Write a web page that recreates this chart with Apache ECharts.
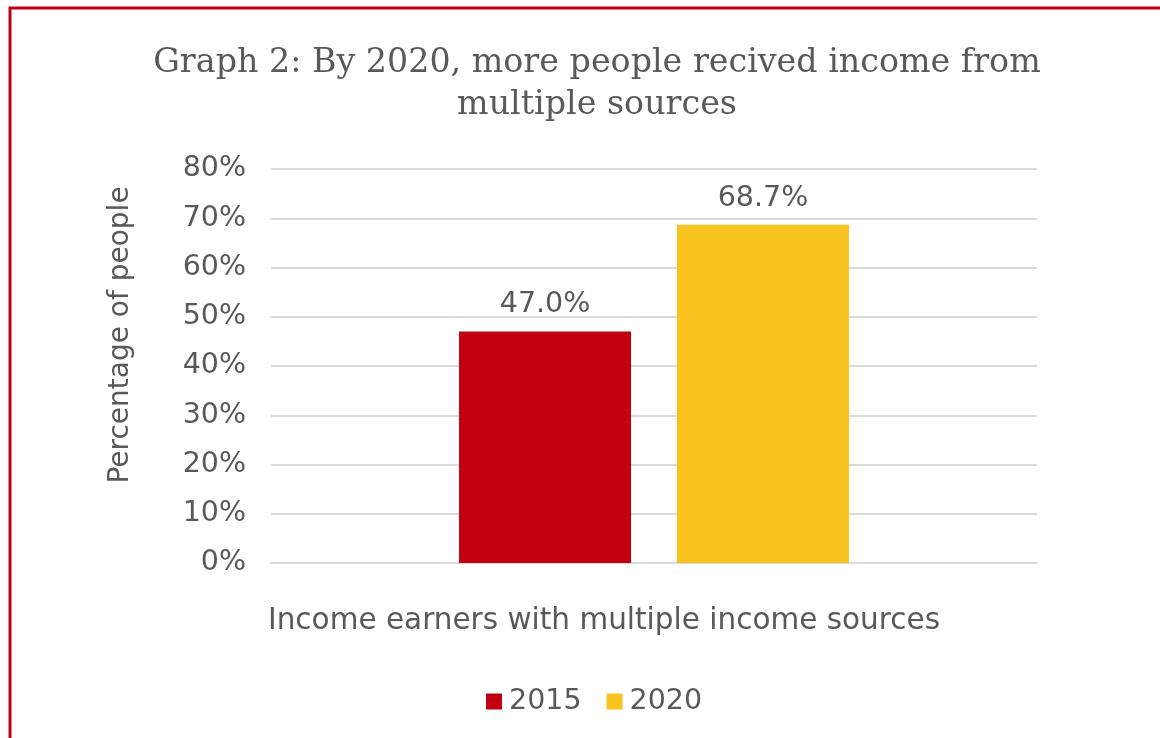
<!DOCTYPE html>
<html>
<head>
<meta charset="utf-8">
<script src="https://cdn.jsdelivr.net/npm/echarts@6/dist/echarts.min.js"></script>
<style>
  html, body { margin: 0; padding: 0; background: #fff; }
  #chart { width: 1160px; height: 738px; }
</style>
</head>
<body>
<div id="chart"></div>
<script>
// Chart data
const categories = ['Income earners with multiple income sources'];
const seriesNames = ['2015', '2020'];
const values2015 = [47.0];
const values2020 = [68.7];
const yTicks = [0, 10, 20, 30, 40, 50, 60, 70, 80];

const textColor = '#595959';
const sans = '"DejaVu Sans", Verdana, sans-serif';
const fs = 28.5;

const chart = echarts.init(document.getElementById('chart'));
chart.setOption({
  backgroundColor: '#fff',
  animation: false,
  title: {
    text: 'Graph 2: By 2020, more people recived income from\nmultiple sources',
    left: 592,
    textAlign: 'center',
    top: 37,
    textStyle: {
      fontFamily: '"DejaVu Serif", serif',
      fontWeight: 'normal',
      fontSize: 33.3,
      lineHeight: 42,
      color: textColor,
      align: 'center'
    }
  },
  graphic: [{
    type: 'rect',
    shape: { x: 10, y: 8, width: 1200, height: 800 },
    style: { fill: 'none', stroke: '#c00018', lineWidth: 3 },
    silent: true
  }],
  legend: {
    data: seriesNames,
    top: 682,
    left: 481,
    itemWidth: 16,
    itemHeight: 16,
    itemGap: 25,
    icon: 'rect',
    textStyle: { fontFamily: sans, fontSize: fs, color: textColor, padding: [0, 0, 0, 2] }
  },
  grid: { left: 271, right: 123, top: 169, bottom: 175 },
  xAxis: {
    type: 'category',
    data: categories,
    axisLine: { lineStyle: { color: '#d9d9d9', width: 2 } },
    axisTick: { show: false },
    axisLabel: {
      fontFamily: sans, fontSize: 29.5, color: textColor, margin: 43,
      padding: [0, 100, 0, 0]
    }
  },
  yAxis: {
    type: 'value',
    min: yTicks[0],
    max: yTicks[yTicks.length - 1],
    interval: 10,
    name: 'Percentage of people',
    nameLocation: 'middle',
    nameGap: 136,
    nameTextStyle: { fontFamily: sans, fontSize: 28, color: textColor, padding: [0, 0, 0, 62] },
    axisLine: { show: false },
    axisTick: { show: false },
    splitLine: { lineStyle: { color: '#d9d9d9', width: 2 } },
    axisLabel: {
      fontFamily: sans, fontSize: fs, color: textColor, margin: 25,
      padding: [3, 0, 0, 0],
      formatter: v => v + '%'
    }
  },
  series: [
    {
      name: seriesNames[0],
      type: 'bar',
      data: values2015,
      barWidth: 172,
      barGap: '26.7%',
      itemStyle: { color: '#c20012' },
      label: {
        show: true, position: 'top', distance: 12,
        fontFamily: sans, fontSize: fs, color: textColor,
        formatter: p => p.value.toFixed(1) + '%'
      }
    },
    {
      name: seriesNames[1],
      type: 'bar',
      data: values2020,
      barWidth: 172,
      itemStyle: { color: '#f9c31f' },
      label: {
        show: true, position: 'top', distance: 12,
        fontFamily: sans, fontSize: fs, color: textColor,
        formatter: p => p.value.toFixed(1) + '%'
      }
    }
  ]
});
</script>
</body>
</html>
